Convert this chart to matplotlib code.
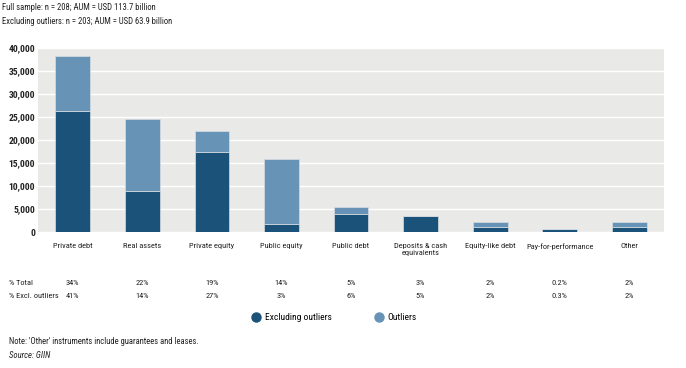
import matplotlib.pyplot as plt
from matplotlib.lines import Line2D

plt.rcParams['font.family'] = ['DejaVu Sans Condensed', 'Roboto Condensed', 'Liberation Sans Narrow',
                               'Roboto']

categories = ["Private debt", "Real assets", "Private equity", "Public equity", "Public debt",
              "Deposits & cash\nequivalents", "Equity-like debt", "Pay-for-performance", "Other"]
excl_outliers = [26300, 8900, 17500, 1700, 3900, 3400, 1150, 550, 1150]
total = [38300, 24600, 21900, 15900, 5500, 3400, 2200, 600, 2200]
pct_total = ["34%", "22%", "19%", "14%", "5%", "3%", "2%", "0.2%", "2%"]
pct_excl = ["41%", "14%", "27%", "3%", "6%", "5%", "2%", "0.3%", "2%"]

dark = "#1a5279"
light = "#6693b6"
txt = "#222222"

fig = plt.figure(figsize=(6.86, 3.68), dpi=100)
W, H = 686, 368
ax = fig.add_axes([38 / W, 1 - 232 / H, (664 - 38) / W, (232 - 48) / H])
ax.set_facecolor("#e9eae8")

x = range(len(categories))
outliers = [t - e for t, e in zip(total, excl_outliers)]
ax.bar(x, excl_outliers, width=0.5, color=dark, edgecolor="#d8dde2", linewidth=0.5, zorder=3)
ax.bar(x, outliers, bottom=excl_outliers, width=0.5, color=light, edgecolor="#d8dde2",
       linewidth=0.5, zorder=3)

ax.set_xlim(-0.5, len(categories) - 0.5)
ax.set_ylim(0, 40000)
ax.set_yticks(range(0, 40001, 5000))
ax.set_yticklabels([f"{v:,}" for v in range(0, 40001, 5000)], fontsize=6.8, color=txt,
                   fontweight="bold")
ax.yaxis.grid(True, color="white", linewidth=1, zorder=0)
ax.set_axisbelow(True)
ax.tick_params(axis="y", length=0, pad=2)
ax.tick_params(axis="x", length=0, pad=8)
ax.set_xticks(list(x))
ax.set_xticklabels(categories, fontsize=6, color=txt, va="top", linespacing=1.2)
for s in ax.spines.values():
    s.set_visible(False)

# table rows under the chart
row_y = [1 - 283 / H, 1 - 296 / H]
for yy, lab, vals in zip(row_y, ["% Total", "% Excl. outliers"], [pct_total, pct_excl]):
    fig.text(9 / W, yy, lab, fontsize=6, color=txt, va="center")
    for i, v in enumerate(vals):
        xf = ax.transData.transform((i, 0))[0] / fig.bbox.width
        fig.text(xf, yy, v, fontsize=6, color=txt, va="center", ha="center")

handles = [Line2D([], [], marker="o", linestyle="", color=dark, markersize=6.5),
           Line2D([], [], marker="o", linestyle="", color=light, markersize=6.5)]
fig.legend(handles, ["Excluding outliers", "Outliers"], loc="center", ncol=2,
           bbox_to_anchor=(334 / W, 1 - 318 / H), frameon=False, fontsize=6.8,
           handletextpad=0.4, columnspacing=4.5, handlelength=1)

fig.text(2 / W, 1 - 8 / H, "Full sample: n = 208; AUM = USD 113.7 billion", fontsize=6.2,
         color=txt, va="center")
fig.text(2 / W, 1 - 22 / H, "Excluding outliers: n = 203; AUM = USD 63.9 billion", fontsize=6.2,
         color=txt, va="center")
fig.text(9 / W, 1 - 341 / H, "Note: 'Other' instruments include guarantees and leases.",
         fontsize=6.2, color=txt, va="center")
fig.text(9 / W, 1 - 355 / H, "Source: GIIN", fontsize=6.2, color=txt, va="center",
         style="italic")

fig.savefig("out.png", dpi=100)
